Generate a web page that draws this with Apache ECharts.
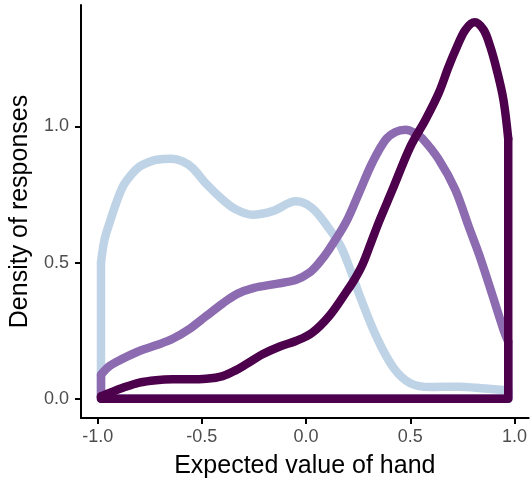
<!DOCTYPE html>
<html>
<head>
<meta charset="utf-8">
<script src="https://cdn.jsdelivr.net/npm/echarts@6/dist/echarts.min.js"></script>
<style>
  html, body { margin: 0; padding: 0; background: #fff; }
  #chart { width: 530px; height: 484px; }
</style>
</head>
<body>
<div id="chart"></div>
<script>
// Density estimates of expected hand value, one curve per group: [x, density]
const lowGroup = [
  [-0.984, 0.50], [-0.967, 0.585], [-0.943, 0.646], [-0.911, 0.719], [-0.879, 0.78],
  [-0.839, 0.823], [-0.799, 0.853], [-0.759, 0.868], [-0.719, 0.878], [-0.647, 0.882],
  [-0.592, 0.872], [-0.544, 0.847], [-0.48, 0.79], [-0.40, 0.731], [-0.336, 0.695],
  [-0.257, 0.676], [-0.161, 0.689], [-0.049, 0.725], [0.03, 0.70], [0.11, 0.625],
  [0.166, 0.56], [0.214, 0.47], [0.262, 0.369], [0.341, 0.222], [0.421, 0.112],
  [0.50, 0.057], [0.597, 0.043], [0.732, 0.044], [0.86, 0.037], [0.947, 0.032],
  [0.97, 0.030]
];
const midGroup = [
  [-0.984, 0.088], [-0.943, 0.12], [-0.879, 0.147], [-0.80, 0.175], [-0.72, 0.196],
  [-0.64, 0.220], [-0.56, 0.256], [-0.48, 0.303], [-0.40, 0.350], [-0.33, 0.385],
  [-0.25, 0.407], [-0.15, 0.421], [-0.05, 0.436], [0.014, 0.462], [0.062, 0.499],
  [0.11, 0.548], [0.19, 0.646], [0.254, 0.756], [0.317, 0.866], [0.381, 0.951],
  [0.429, 0.980], [0.477, 0.988], [0.525, 0.975], [0.557, 0.957], [0.636, 0.88],
  [0.716, 0.768], [0.78, 0.633], [0.83, 0.53], [0.89, 0.39], [0.947, 0.254],
  [0.97, 0.21]
];
const highGroup = [
  [-0.984, 0.008], [-0.94, 0.022], [-0.879, 0.04], [-0.80, 0.059], [-0.72, 0.068],
  [-0.64, 0.071], [-0.56, 0.071], [-0.48, 0.073], [-0.40, 0.083], [-0.336, 0.105],
  [-0.289, 0.126], [-0.209, 0.163], [-0.129, 0.191], [-0.049, 0.212], [0.03, 0.243],
  [0.11, 0.303], [0.19, 0.389], [0.23, 0.435], [0.269, 0.49], [0.31, 0.57],
  [0.35, 0.65], [0.413, 0.765], [0.501, 0.927], [0.573, 1.025], [0.636, 1.122],
  [0.684, 1.22], [0.724, 1.293], [0.764, 1.355], [0.809, 1.383], [0.852, 1.355],
  [0.884, 1.293], [0.915, 1.208], [0.947, 1.098], [0.97, 0.955]
];

const groupColors = ['#BFD3E6', '#8C6BB1', '#4D004B'];
const xTicks = [-1, -0.5, 0, 0.5, 1];
const yTicks = [0, 0.5, 1];

const FONT = '"Liberation Sans", Arial, Helvetica, sans-serif';
const LINE_W = 8.5;

// Each density outline is a closed shape: the smooth curve plus its
// vertical edges and the baseline back to the start.
function outline(curve) {
  const first = curve[0];
  const last = curve[curve.length - 1];
  return [last, [last[0], 0], [first[0], 0], first];
}

const series = [];
[lowGroup, midGroup, highGroup].forEach((curve, i) => {
  const style = { color: groupColors[i], width: LINE_W, cap: 'round', join: 'round' };
  series.push({
    type: 'line', data: curve, smooth: 0.35,
    symbol: 'none', lineStyle: style, silent: true
  });
  series.push({
    type: 'line', data: outline(curve), smooth: false,
    symbol: 'none', lineStyle: style, silent: true
  });
});

const chart = echarts.init(document.getElementById('chart'));
chart.setOption({
  animation: false,
  backgroundColor: '#fff',
  grid: { left: 81, right: 0, top: 5, bottom: 65, containLabel: false },
  xAxis: {
    type: 'value', min: -1.08, max: 1.068,
    name: 'Expected value of hand', nameLocation: 'middle', nameGap: 36,
    nameTextStyle: { color: '#000', fontSize: 25, fontFamily: FONT },
    axisLine: { show: true, onZero: false, lineStyle: { color: '#000', width: 2 } },
    axisTick: { show: true, customValues: xTicks, length: 6, lineStyle: { color: '#000', width: 2 } },
    axisLabel: {
      customValues: xTicks, formatter: v => v.toFixed(1),
      color: '#4D4D4D', fontSize: 18, fontFamily: FONT, margin: 10
    },
    splitLine: { show: false }
  },
  yAxis: {
    type: 'value', min: -0.071, max: 1.4465,
    name: 'Density of responses', nameLocation: 'middle', nameGap: 45, nameRotate: 90,
    nameTextStyle: { color: '#000', fontSize: 25, fontFamily: FONT },
    axisLine: { show: true, onZero: false, lineStyle: { color: '#000', width: 2 } },
    axisTick: { show: true, customValues: yTicks, length: 6, lineStyle: { color: '#000', width: 2 } },
    axisLabel: {
      customValues: yTicks, formatter: v => v.toFixed(1),
      color: '#4D4D4D', fontSize: 18, fontFamily: FONT, margin: 12
    },
    splitLine: { show: false }
  },
  series: series
});
</script>
</body>
</html>
